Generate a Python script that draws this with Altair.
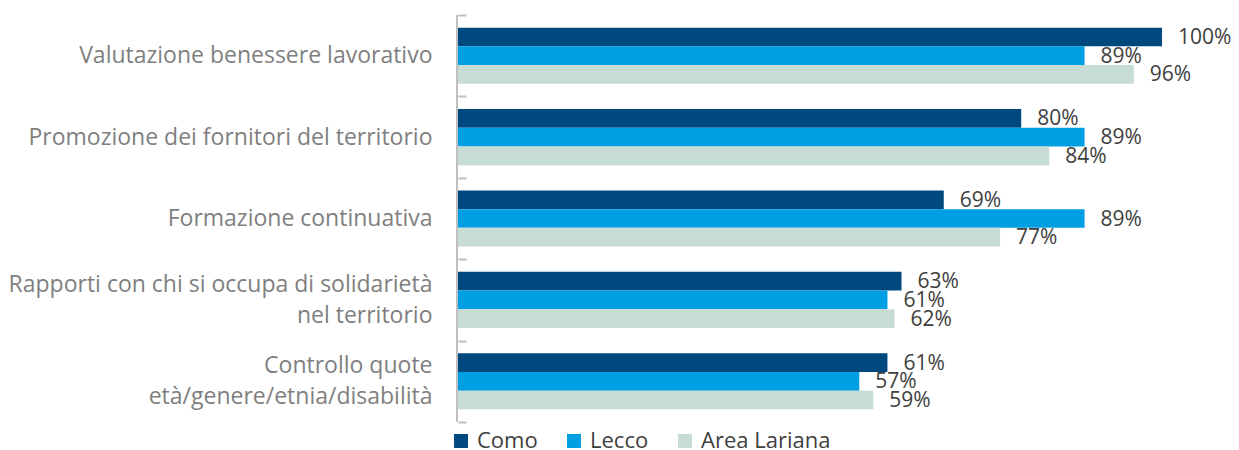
import altair as alt
import pandas as pd

categories = [
    "Valutazione benessere lavorativo",
    "Promozione dei fornitori del territorio",
    "Formazione continuativa",
    "Rapporti con chi si occupa di solidarietà|nel territorio",
    "Controllo quote|età/genere/etnia/disabilità",
]
series = ["Como", "Lecco", "Area Lariana"]
como = [100, 80, 69, 63, 61]
lecco = [89, 89, 89, 61, 57]
area = [96, 84, 77, 62, 59]
colors = ["#00497F", "#009EE2", "#C8DCD6"]

rows = []
for s, vals in zip(series, [como, lecco, area]):
    for c, v in zip(categories, vals):
        rows.append({"cat": c, "serie": s, "v": v})
df = pd.DataFrame(rows)

FONT = "Open Sans"
W, H = 704, 407

y_enc = alt.Y(
    "cat:N",
    sort=categories,
    title=None,
    scale=alt.Scale(paddingInner=0, paddingOuter=0),
    axis=alt.Axis(
        labelExpr="isValid(datum.value) ? split(datum.value, '|') : ''",
        labelFontSize=23,
        labelColor="#7F7F7F",
        labelFont=FONT,
        labelLineHeight=31,
        labelPadding=26,
        labelLimit=0,
        labelOffset={
            "condition": {"test": "isValid(datum.value) && indexof(datum.value, '|') >= 0", "value": -15.5},
            "value": 0,
        },
        offset=-8,
        tickBand="extent",
        tickSize=8,
        tickColor="#BFBFBF",
        tickWidth=2,
        domain=False,
        grid=False,
    ),
)
yoff = alt.YOffset("serie:N", sort=series, scale=alt.Scale(paddingInner=0, paddingOuter=0.675))
x_enc = alt.X("v:Q", scale=alt.Scale(domain=[0, 100]), axis=None)

bars = alt.Chart(df).mark_bar().encode(
    y=y_enc,
    yOffset=yoff,
    x=x_enc,
    color=alt.Color(
        "serie:N",
        sort=series,
        scale=alt.Scale(domain=series, range=colors),
        legend=alt.Legend(
            title=None,
            orient="none",
            direction="horizontal",
            legendX=-8,
            legendY=415,
            symbolType="square",
            symbolSize=196,
            symbolStrokeWidth=0,
            labelFontSize=22,
            labelFont=FONT,
            labelColor="#404040",
            columnPadding=25,
            symbolOffset=0,
            labelOffset=5,
        ),
    ),
)

text = alt.Chart(df).transform_calculate(lbl="datum.v + '%'").mark_text(
    align="left", baseline="middle", dx=16, dy=1, fontSize=21, font=FONT, color="#404040"
).encode(
    y=alt.Y("cat:N", sort=categories),
    yOffset=yoff,
    x=x_enc,
    text="lbl:N",
)

domain_line = alt.Chart(df).mark_rule(color="#BFBFBF", strokeWidth=2).encode(
    x=alt.value(-1), y=alt.value(0), y2=alt.value(H)
)

chart = (
    alt.layer(bars, text, domain_line)
    .properties(
        width=W,
        height=H,
        autosize=alt.AutoSizeParams(type="none"),
        padding={"left": 450, "top": 7, "right": 69, "bottom": 34},
    )
    .configure(font=FONT)
    .configure_view(stroke="transparent", strokeWidth=0)
)

chart.save("out.html", embed_options={"renderer": "svg", "actions": False})
